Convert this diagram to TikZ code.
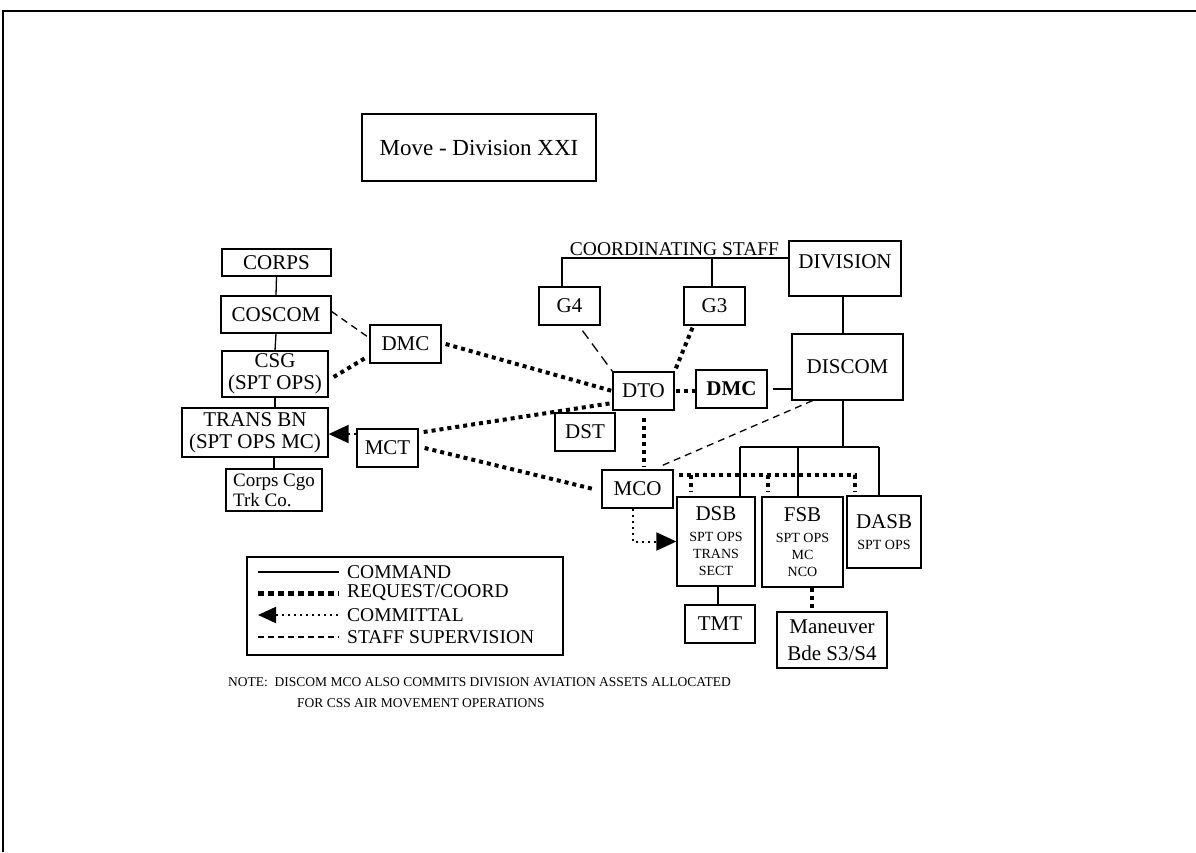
\documentclass[tikz,border=0pt]{standalone}
\usepackage{fontspec}
\setmainfont{Liberation Serif}
\usetikzlibrary{arrows.meta}
\newcommand{\bigtxt}{\fontsize{21}{22}\selectfont}
\newcommand{\smalltxt}{\fontsize{14}{17}\selectfont}
\begin{document}
\begin{tikzpicture}[x=1pt,y=-1pt,
  box/.style={draw,line width=1.3pt,inner sep=0pt,align=center,font=\fontsize{21}{22}\selectfont},
  cmd/.style={line width=1.3pt},
  req/.style={line width=4pt,dash pattern=on 4pt off 4pt},
  sup/.style={line width=1.3pt,dash pattern=on 7pt off 5pt},
  com/.style={line width=2pt,dash pattern=on 2pt off 4pt},
  tip/.style={-{Triangle[length=20pt,width=18pt]}},
  legtxt/.style={anchor=west,inner sep=0pt,font=\fontsize{19.5}{20}\selectfont},
  notetxt/.style={anchor=west,inner sep=0pt,font=\fontsize{13.5}{15}\selectfont}]
\useasboundingbox (0,0) rectangle (1196,852);

% page frame
\draw[line width=2.5pt] (3,852) -- (3,11) -- (1196,11);

% title
\node[box,minimum width=234pt,minimum height=67pt,font=\fontsize{23}{25}\selectfont] (title) at (479,147.5) {Move - Division XXI};

% corps side
\node[box,minimum width=109pt,minimum height=27pt] (corps) at (276.5,262.5) {CORPS};
\node[box,minimum width=110pt,minimum height=37pt] (coscom) at (276,314.5) {COSCOM};
\node[box,minimum width=106pt,minimum height=46pt] (csg) at (275,374) {CSG\\(SPT OPS)};
\node[box,minimum width=146pt,minimum height=49pt] (transbn) at (255,432.5) {TRANS BN\\(SPT OPS MC)};
\node[box,minimum width=96pt,minimum height=42pt,align=left,font=\fontsize{19}{20}\selectfont] (cgo) at (274,490) {Corps Cgo\\Trk Co.};
\node[box,minimum width=71pt,minimum height=38pt] (dmcL) at (405.5,344) {DMC};
\node[box,minimum width=61pt,minimum height=38pt] (mct) at (387.5,448) {MCT};

% division side
\node[box,minimum width=61pt,minimum height=38pt] (g4) at (569.5,306) {G4};
\node[box,minimum width=61pt,minimum height=38pt] (g3) at (714.5,306) {G3};
\node[box,minimum width=112pt,minimum height=55pt,text depth=13pt] (division) at (845,268.5) {DIVISION};
\node[box,minimum width=111pt,minimum height=66pt] (discom) at (847.5,367) {DISCOM};
\node[box,minimum width=71pt,minimum height=38pt,font=\fontsize{21}{22}\selectfont\bfseries] (dmcR) at (731.5,389) {DMC};
\node[box,minimum width=61pt,minimum height=38pt] (dto) at (643.5,391) {DTO};
\node[box,minimum width=60pt,minimum height=38pt] (dst) at (585,432) {DST};
\node[box,minimum width=71pt,minimum height=38pt] (mco) at (637.5,489) {MCO};
\node[box,minimum width=78pt,minimum height=89pt] (dsb) at (716,541.5)
  {\bigtxt DSB\\[-1pt]\smalltxt SPT OPS\\[-5pt]\smalltxt TRANS\\[-5pt]\smalltxt SECT};
\node[box,minimum width=81pt,minimum height=90pt] (fsb) at (802.5,542)
  {\bigtxt FSB\\[-1pt]\smalltxt SPT OPS\\[-5pt]\smalltxt MC\\[-5pt]\smalltxt NCO};
\node[box,minimum width=74pt,minimum height=72pt] (dasb) at (884,532)
  {\bigtxt DASB\\[-1pt]\smalltxt SPT OPS};
\node[box,minimum width=70pt,minimum height=38pt] (tmt) at (720,624) {TMT};
\node[box,minimum width=110pt,minimum height=56pt,font=\fontsize{21}{27}\selectfont] (mnv) at (832,640) {Maneuver\\Bde S3/S4};

% coordinating staff bracket
\coordinate (cs4) at (562,258);
\coordinate (cs3) at (712,258);
\node[anchor=base,inner sep=0pt,font=\fontsize{19.5}{20}\selectfont] (coordtxt) at (674.5,255) {COORDINATING STAFF};
\draw[cmd] (cs4 |- g4.north) -- (cs4) -- (division.west |- cs4);
\draw[cmd] (cs3 |- g3.north) -- (cs3);

% command lines
\draw[cmd] (corps.south) -- (coscom.north);
\draw[cmd] (coscom.south) -- (csg.north);
\draw[cmd] (csg.south) -- (csg.south |- transbn.north);
\draw[cmd] (cgo.north) -- (cgo.north |- transbn.south);
\draw[cmd] ([xshift=-2pt]division.south) -- ([xshift=-2pt]division.south |- discom.north);
\draw[cmd] ([xshift=5pt]dmcR.east) -- (discom.west |- dmcR.east);
\coordinate (tee) at (843,447);
\coordinate (ta) at (740,447);
\coordinate (tb) at (798,447);
\coordinate (tc) at (879,447);
\draw[cmd] (tee |- discom.south) -- (tee);
\draw[cmd] (ta) -- (tc);
\draw[cmd] (ta) -- (ta |- dsb.north);
\draw[cmd] (tb) -- (tb |- fsb.north);
\draw[cmd] (tc) -- (tc |- dasb.north);
\draw[cmd] ([xshift=2pt]dsb.south) -- ([xshift=2pt]dsb.south |- tmt.north);

% staff supervision
\draw[sup] ([yshift=3pt]coscom.east) -- ([yshift=6pt]dmcL.west);
\draw[line width=1.3pt,dash pattern=on 10pt off 6pt] ([xshift=13pt,yshift=-5pt]g4.south) -- (dto.north west);
\draw[sup] ([xshift=-35pt]discom.south) -- ([xshift=25pt,yshift=4pt]mco.north);

% request / coordination
\draw[req] ([xshift=5pt,yshift=-3pt]csg.east) -- ([xshift=-4pt,yshift=-14pt]dmcL.west);
\draw[req] ([xshift=4pt]dmcL.east) -- (dto.west);
\draw[req] ([xshift=-22pt,yshift=-2pt]g3.south) -- (dto.north east);
\draw[req] ([xshift=5pt,yshift=16pt]mct.east) -- ([yshift=-12pt]dto.west);
\draw[req] ([xshift=6pt]mct.east) -- ([xshift=-8pt]mco.west);
\draw[req] ([xshift=1pt]dto.east) -- (dmcR.west |- dto.east);
\draw[req] ([yshift=-7pt]dto.south) -- ([yshift=3pt]dto.south |- mco.north);
\coordinate (rs) at (679,475);
\coordinate (r1) at (691,475);
\coordinate (r2) at (768,475);
\coordinate (r3) at (855,475);
\draw[req] (rs) -- (r3) -- ([yshift=4pt]r3 |- dasb.north);
\draw[req] (r1) -- ([yshift=4pt]r1 |- dsb.north);
\draw[req] (r2) -- ([yshift=4pt]r2 |- fsb.north);
\draw[req] ([xshift=9.5pt]fsb.south) -- ([xshift=9.5pt]fsb.south |- mnv.north);

% committal
\coordinate (mctw) at ([yshift=14pt]mct.west);
\draw[com,tip] (mctw) -- (transbn.east |- mctw);
\coordinate (cm) at ([xshift=-4.5pt]mco.south);
\draw[com,tip] (cm) -- (cm |- dsb.west) -- (dsb.west);

% legend
\node[draw,line width=1.3pt,minimum width=316pt,minimum height=98pt,inner sep=0pt] (legend) at (405,606) {};
\coordinate (l1a) at (258,572); \coordinate (l1b) at (339,572);
\coordinate (l2a) at (258,593); \coordinate (l2b) at (339,593);
\coordinate (l3a) at (258,615); \coordinate (l3b) at (339,615);
\coordinate (l4a) at (258,637); \coordinate (l4b) at (339,637);
\draw[cmd] (l1a) -- (l1b);
\draw[line width=5pt,dash pattern=on 6pt off 4pt] (l2a) -- (l2b);
\draw[com,{Triangle[length=18pt,width=16pt]}-] (l3a) -- (l3b);
\draw[line width=1.3pt,dash pattern=on 6pt off 4pt] (l4a) -- (l4b);
\node[legtxt] (lt1) at (347,572) {COMMAND};
\node[legtxt] (lt2) at (347,593) {REQUEST/COORD};
\node[legtxt] (lt3) at (347,615) {COMMITTAL};
\node[legtxt] (lt4) at (347,637) {STAFF SUPERVISION};

% note
\node[notetxt] (note1) at (228,682) {NOTE:\ \ DISCOM MCO ALSO COMMITS DIVISION AVIATION ASSETS ALLOCATED};
\node[notetxt] (note2) at (297,703) {FOR CSS AIR MOVEMENT OPERATIONS};
\end{tikzpicture}
\end{document}
